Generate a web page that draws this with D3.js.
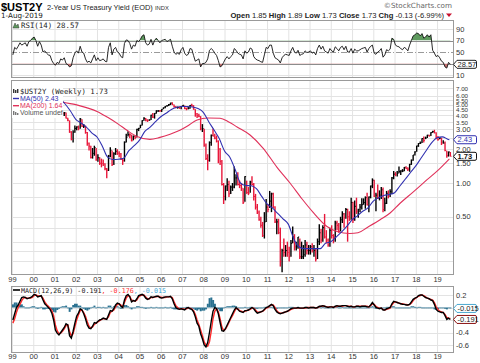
<!DOCTYPE html>
<html>
<head>
<meta charset="utf-8">
<script src="https://cdn.jsdelivr.net/npm/d3@7"></script>
<style>
  body { margin: 0; background: #fff; }
  svg { display: block; font-family: "DejaVu Sans", Verdana, sans-serif; }
</style>
</head>
<body>
<div id="chart"></div>
<script>
// ---- data (monthly, Jan 1999 .. 1 Aug 2019) ----
const startYear = 1999;
const yearLabels = ["99","00","01","02","03","04","05","06","07","08","09","10","11","12","13","14","15","16","17","18","19"];

const priceClose = [
  4.63,5.08,5.01,5.06,5.41,5.52,5.68,5.79,5.70,5.95,6.09,6.24,
  6.59,6.62,6.47,6.76,6.68,6.36,6.26,6.13,5.98,5.90,5.53,5.11,
  4.56,4.40,4.18,4.26,4.17,4.23,3.79,3.63,2.85,2.45,2.84,3.07,
  3.16,3.04,3.72,3.22,3.22,2.82,2.26,2.13,1.69,1.84,2.07,1.61,
  1.68,1.50,1.49,1.48,1.34,1.30,1.74,1.96,1.46,1.82,1.92,1.84,
  1.82,1.63,1.58,2.31,2.55,2.70,2.69,2.38,2.61,2.55,3.01,3.07,
  3.27,3.60,3.78,3.64,3.60,3.64,4.02,3.86,4.18,4.40,4.42,4.41,
  4.54,4.69,4.82,4.87,4.99,5.16,4.98,4.78,4.71,4.71,4.62,4.82,
  4.93,4.62,4.58,4.60,4.92,4.87,4.56,4.15,3.97,3.94,3.04,3.05,
  2.17,1.65,1.59,2.29,2.66,2.63,2.51,2.36,2.00,1.56,0.97,0.76,
  0.94,0.97,0.80,0.92,0.92,1.11,1.11,0.97,0.95,0.90,0.67,1.14,
  0.82,0.81,1.02,0.97,0.76,0.61,0.55,0.47,0.42,0.34,0.45,0.61,
  0.58,0.69,0.80,0.61,0.45,0.45,0.36,0.20,0.25,0.24,0.25,0.24,
  0.22,0.29,0.33,0.27,0.27,0.33,0.22,0.22,0.23,0.28,0.25,0.25,
  0.27,0.25,0.25,0.21,0.30,0.36,0.31,0.40,0.33,0.31,0.28,0.38,
  0.34,0.33,0.44,0.42,0.37,0.47,0.53,0.49,0.58,0.50,0.47,0.67,
  0.47,0.62,0.56,0.58,0.61,0.64,0.67,0.74,0.64,0.75,0.94,1.06,
  0.76,0.78,0.73,0.78,0.87,0.58,0.66,0.81,0.77,0.84,1.11,1.20,
  1.19,1.22,1.27,1.28,1.28,1.38,1.34,1.33,1.47,1.60,1.78,1.89,
  2.14,2.25,2.27,2.49,2.40,2.52,2.67,2.63,2.81,2.87,2.80,2.48,
  2.45,2.52,2.27,2.27,1.95,1.75,1.89,1.73
];
const priceHigh = [
  4.70,5.12,5.20,5.15,5.48,5.75,5.75,5.90,5.85,6.03,6.12,6.30,
  6.65,6.80,6.70,6.80,6.95,6.70,6.45,6.30,6.12,6.00,5.92,5.55,
  5.05,4.65,4.45,4.40,4.35,4.30,4.25,3.82,3.62,2.90,2.95,3.25,
  3.20,3.25,3.80,3.70,3.35,3.25,2.85,2.30,2.15,2.05,2.15,2.05,
  1.80,1.70,1.65,1.62,1.50,1.36,1.78,2.08,1.95,1.88,2.05,2.00,
  1.92,1.85,1.65,2.35,2.75,2.90,2.78,2.70,2.65,2.65,3.05,3.10,
  3.30,3.62,3.85,3.80,3.70,3.70,4.05,4.20,4.20,4.45,4.45,4.45,
  4.55,4.72,4.85,4.95,5.05,5.20,5.25,5.00,4.85,4.80,4.78,4.85,
  4.97,4.90,4.70,4.75,4.95,5.10,4.95,4.55,4.20,4.15,3.95,3.35,
  3.05,2.25,1.80,2.35,2.70,3.05,2.75,2.65,2.40,2.05,1.60,1.00,
  0.95,1.10,1.05,0.95,1.00,1.40,1.20,1.25,1.05,1.00,0.90,1.15,
  1.05,0.92,1.05,1.15,1.00,0.80,0.65,0.57,0.50,0.45,0.55,0.72,
  0.65,0.85,0.82,0.82,0.62,0.48,0.48,0.40,0.26,0.32,0.28,0.30,
  0.27,0.31,0.41,0.35,0.30,0.33,0.32,0.30,0.28,0.31,0.30,0.28,
  0.28,0.29,0.28,0.26,0.32,0.43,0.39,0.42,0.53,0.38,0.32,0.40,
  0.42,0.35,0.46,0.46,0.44,0.50,0.56,0.54,0.60,0.59,0.56,0.74,
  0.68,0.70,0.74,0.59,0.65,0.73,0.73,0.76,0.82,0.76,0.95,1.10,
  1.07,0.82,0.97,0.86,0.92,0.91,0.74,0.85,0.86,0.88,1.13,1.28,
  1.25,1.28,1.40,1.30,1.33,1.39,1.41,1.38,1.48,1.62,1.78,1.92,
  2.15,2.27,2.35,2.50,2.60,2.59,2.69,2.69,2.83,2.92,2.98,2.84,
  2.62,2.54,2.53,2.40,2.35,1.94,1.91,1.89
];
const priceLow = [
  4.45,4.60,4.95,4.98,5.05,5.40,5.45,5.62,5.62,5.68,5.88,6.02,
  6.25,6.55,6.40,6.42,6.65,6.30,6.18,6.08,5.90,5.82,5.50,5.02,
  4.45,4.30,4.05,3.95,4.05,3.95,3.75,3.55,2.80,2.40,2.30,2.80,
  2.95,2.95,3.05,3.15,3.10,2.75,2.15,1.95,1.65,1.65,1.75,1.58,
  1.55,1.45,1.38,1.42,1.30,1.10,1.28,1.70,1.42,1.45,1.78,1.78,
  1.70,1.60,1.45,1.55,2.30,2.60,2.50,2.35,2.40,2.45,2.55,2.90,
  3.08,3.25,3.58,3.55,3.50,3.58,3.65,3.80,3.75,4.15,4.30,4.30,
  4.30,4.55,4.65,4.80,4.85,4.95,4.95,4.70,4.65,4.60,4.60,4.55,
  4.78,4.55,4.45,4.55,4.60,4.80,4.50,3.90,3.80,3.85,2.95,2.85,
  2.10,1.60,1.30,1.55,2.15,2.60,2.45,2.30,1.50,1.45,0.95,0.65,
  0.70,0.85,0.75,0.80,0.85,0.90,0.95,0.95,0.90,0.85,0.65,0.68,
  0.80,0.78,0.82,0.95,0.70,0.58,0.53,0.46,0.40,0.33,0.32,0.45,
  0.55,0.60,0.55,0.60,0.44,0.35,0.35,0.18,0.16,0.22,0.22,0.22,
  0.20,0.22,0.29,0.25,0.25,0.26,0.21,0.21,0.21,0.22,0.23,0.23,
  0.23,0.24,0.22,0.20,0.21,0.28,0.29,0.30,0.32,0.29,0.27,0.27,
  0.32,0.29,0.30,0.38,0.36,0.37,0.44,0.40,0.48,0.30,0.46,0.47,
  0.44,0.46,0.53,0.49,0.55,0.58,0.64,0.59,0.63,0.55,0.73,0.90,
  0.75,0.56,0.72,0.70,0.72,0.55,0.56,0.65,0.73,0.75,0.80,1.08,
  1.15,1.14,1.22,1.18,1.25,1.27,1.33,1.28,1.26,1.45,1.58,1.76,
  1.90,2.10,2.23,2.27,2.30,2.46,2.52,2.60,2.63,2.80,2.77,2.48,
  2.38,2.45,2.18,2.25,1.92,1.68,1.72,1.73
];

// moving averages (decimal year, value)
const ma50Dates = [1999.0,1999.25,1999.5,1999.75,2000.0,2000.25,2000.5,2000.75,2001.0,2001.25,2001.5,2001.75,
  2002.0,2002.25,2002.5,2002.75,2003.0,2003.25,2003.5,2003.75,2004.0,2004.25,2004.5,2004.75,
  2005.0,2005.25,2005.5,2005.75,2006.0,2006.25,2006.5,2006.75,2007.0,2007.25,2007.5,2007.75,
  2008.0,2008.25,2008.5,2008.75,2009.0,2009.25,2009.5,2009.75,2010.0,2010.25,2010.5,2010.75,
  2011.0,2011.25,2011.5,2011.75,2012.0,2012.25,2012.5,2012.75,2013.0,2013.25,2013.5,2013.75,
  2014.0,2014.25,2014.5,2014.75,2015.0,2015.25,2015.5,2015.75,2016.0,2016.25,2016.5,2016.75,
  2017.0,2017.25,2017.5,2017.75,2018.0,2018.25,2018.5,2018.75,2019.0,2019.25,2019.5,2019.58];
const ma50Values = [4.95,4.9,5.0,5.2,5.5,5.9,6.2,6.35,6.2,5.65,5.06,4.38,
  3.7,3.43,3.15,2.8,2.57,2.13,1.7,1.62,1.63,1.66,1.94,2.15,
  2.41,2.88,3.15,3.52,3.9,4.19,4.53,4.73,4.81,4.81,4.76,4.61,
  4.27,3.54,2.98,2.49,1.93,1.7,1.32,1.0,0.95,0.945,0.89,0.76,
  0.65,0.6,0.535,0.48,0.43,0.32,0.27,0.26,0.26,0.26,0.26,0.29,
  0.3,0.33,0.365,0.41,0.47,0.51,0.56,0.6,0.69,0.74,0.775,0.79,
  0.82,0.94,1.08,1.24,1.42,1.67,1.96,2.29,2.53,2.58,2.46,2.43];
const ma200Dates = [1999.0,1999.5,2000.0,2000.5,2001.0,2001.35,2002.0,2002.5,2003.0,2003.5,2004.0,2004.41,
  2004.88,2005.49,2005.96,2006.44,2006.9,2007.24,2007.71,2008.22,2008.79,2009.2,2009.59,2010.2,
  2010.81,2011.47,2012.08,2012.65,2013.16,2013.82,2014.29,2014.9,2015.28,2015.7,2016.32,2016.79,
  2017.26,2017.87,2018.53,2019.14,2019.58];
const ma200Values = [5.75,5.6,5.55,5.65,5.7,5.3,5.0,4.7,4.35,3.85,3.35,2.95,
  2.6,2.45,2.55,2.72,2.95,3.2,3.65,3.8,3.78,3.5,3.16,2.68,
  2.05,1.38,1.0,0.72,0.55,0.41,0.37,0.355,0.36,0.4,0.47,0.54,
  0.66,0.83,1.07,1.35,1.64];

const rsiValues = [
  45,58,55,60,66,62,64,66,60,68,70,74,
  76,70,60,68,62,50,52,48,45,44,35,30,
  27,32,30,38,36,40,30,28,24,26,40,48,
  52,48,60,50,48,38,32,34,31,38,45,35,
  40,35,36,38,34,33,58,66,45,55,58,50,
  48,42,40,65,71,70,65,55,62,60,70,68,
  72,78,80,66,62,64,72,62,70,74,70,66,
  70,71,72,68,70,72,60,50,46,48,46,54,
  58,48,44,46,56,55,44,34,36,38,24,30,
  30,32,38,53,56,53,48,44,35,24,26,32,
  38,42,38,42,45,56,53,48,46,45,38,52,
  48,50,57,55,42,38,36,35,33,32,45,58,
  56,62,62,48,40,38,36,31,40,44,46,45,
  44,52,58,50,48,53,44,46,47,52,49,50,
  52,48,50,45,56,62,55,60,52,50,48,56,
  52,50,59,56,52,58,60,54,60,50,50,56,
  48,55,52,52,54,56,57,58,50,56,60,62,
  48,46,50,52,56,41,45,54,52,55,74,72,
  62,60,59,56,54,58,56,52,62,70,78,80,
  83,82,78,82,74,76,80,76,80,53,48,42,
  44,40,34,32,24,22,32,28.57
];

const macdValues = [
  -0.20,-0.10,0.00,0.04,0.10,0.16,0.17,0.16,0.14,0.15,0.16,0.18,
  0.21,0.20,0.17,0.18,0.19,0.12,0.06,0.03,0.00,-0.03,-0.09,-0.20,
  -0.36,-0.41,-0.44,-0.40,-0.36,-0.32,-0.26,-0.28,-0.45,-0.49,-0.38,-0.25,
  -0.14,-0.09,-0.02,-0.04,-0.10,-0.18,-0.28,-0.33,-0.34,-0.30,-0.24,-0.25,
  -0.22,-0.20,-0.19,-0.17,-0.18,-0.19,-0.12,-0.05,-0.06,-0.02,0.04,0.07,
  0.06,0.02,0.00,0.12,0.19,0.21,0.17,0.09,0.11,0.10,0.14,0.19,
  0.20,0.21,0.19,0.15,0.13,0.14,0.17,0.16,0.17,0.18,0.18,0.16,
  0.15,0.16,0.17,0.17,0.17,0.18,0.14,0.06,0.00,-0.02,-0.03,-0.02,
  -0.03,-0.04,-0.01,0.00,-0.02,-0.03,-0.07,-0.15,-0.25,-0.30,-0.42,-0.50,
  -0.60,-0.63,-0.56,-0.40,-0.22,-0.06,0.00,-0.02,-0.10,-0.24,-0.37,-0.38,
  -0.34,-0.28,-0.22,-0.16,-0.10,-0.04,0.00,-0.03,-0.06,-0.07,-0.08,-0.05,
  -0.05,-0.04,-0.02,0.00,-0.02,-0.06,-0.09,-0.08,-0.07,-0.06,-0.03,0.00,
  0.01,0.03,0.05,0.03,-0.03,-0.07,-0.09,-0.10,-0.09,-0.08,-0.07,-0.06,
  -0.04,-0.02,-0.01,-0.01,-0.01,0.00,-0.01,-0.01,-0.01,0.00,0.00,-0.01,
  0.00,0.00,0.00,-0.01,0.00,0.02,0.02,0.03,0.02,0.01,0.00,0.01,
  0.01,0.00,0.02,0.03,0.02,0.02,0.03,0.03,0.03,0.02,0.01,0.02,
  0.01,0.01,0.02,0.02,0.01,0.02,0.02,0.02,0.01,0.01,0.04,0.08,
  0.04,0.00,-0.01,-0.02,-0.01,-0.04,-0.04,-0.02,-0.01,0.00,0.06,0.10,
  0.09,0.08,0.07,0.06,0.05,0.05,0.04,0.04,0.05,0.09,0.13,0.15,
  0.16,0.19,0.20,0.20,0.18,0.16,0.15,0.14,0.12,0.11,0.05,-0.03,
  -0.06,-0.07,-0.08,-0.08,-0.13,-0.19,-0.17,-0.191
];
const signalValues = [
  -0.25,-0.18,-0.08,0.00,0.05,0.11,0.15,0.16,0.15,0.15,0.15,0.16,
  0.19,0.20,0.19,0.18,0.18,0.15,0.09,0.05,0.02,-0.01,-0.05,-0.13,
  -0.28,-0.37,-0.42,-0.41,-0.38,-0.34,-0.29,-0.28,-0.38,-0.46,-0.42,-0.31,
  -0.20,-0.12,-0.05,-0.04,-0.08,-0.14,-0.23,-0.30,-0.33,-0.31,-0.27,-0.25,
  -0.23,-0.21,-0.19,-0.18,-0.18,-0.18,-0.15,-0.08,-0.06,-0.04,0.01,0.05,
  0.06,0.04,0.01,0.08,0.15,0.19,0.18,0.12,0.11,0.10,0.12,0.17,
  0.19,0.20,0.20,0.17,0.14,0.14,0.16,0.16,0.17,0.17,0.18,0.17,
  0.16,0.16,0.16,0.17,0.17,0.17,0.16,0.09,0.03,0.00,-0.02,-0.02,
  -0.02,-0.03,-0.02,-0.01,-0.01,-0.02,-0.05,-0.11,-0.20,-0.27,-0.36,-0.45,
  -0.55,-0.60,-0.62,-0.55,-0.38,-0.18,-0.06,-0.02,-0.07,-0.18,-0.31,-0.37,
  -0.35,-0.30,-0.24,-0.18,-0.13,-0.07,-0.02,-0.02,-0.05,-0.06,-0.07,-0.06,
  -0.05,-0.04,-0.03,-0.01,-0.01,-0.04,-0.07,-0.08,-0.07,-0.06,-0.04,-0.01,
  0.00,0.02,0.04,0.04,0.00,-0.05,-0.08,-0.09,-0.09,-0.08,-0.07,-0.06,
  -0.05,-0.03,-0.02,-0.01,-0.01,-0.01,-0.01,-0.01,-0.01,-0.01,0.00,0.00,
  0.00,0.00,0.00,-0.01,0.00,0.01,0.02,0.02,0.02,0.01,0.01,0.01,
  0.01,0.01,0.01,0.02,0.02,0.02,0.02,0.03,0.03,0.02,0.02,0.02,
  0.01,0.01,0.02,0.02,0.02,0.02,0.02,0.02,0.02,0.01,0.03,0.06,
  0.05,0.02,0.00,-0.01,-0.01,-0.03,-0.04,-0.03,-0.02,-0.01,0.04,0.08,
  0.09,0.08,0.07,0.06,0.06,0.05,0.05,0.04,0.05,0.07,0.11,0.14,
  0.16,0.18,0.19,0.20,0.19,0.17,0.15,0.14,0.13,0.12,0.08,0.01,
  -0.03,-0.06,-0.07,-0.08,-0.11,-0.16,-0.17,-0.176
];

const priceTicks = [0.5, 1, 1.5, 2, 3, 3.5, 4, 4.5, 5, 5.5, 6, 7];
const priceGrid = [0.2, 0.25, 0.3, 0.4, 0.5, 0.75, 1, 1.5, 2, 2.5, 3, 3.5, 4, 4.5, 5, 5.5, 6, 7];
const rsiTicks = [90, 70, 50, 10];
const macdTicks = [0.2, -0.4, -0.6];

// ---- layout ----
const W = 480, H = 363;
const plotL = 11, plotR = 453;
const rsiP = {top: 20, bottom: 77};
const priceP = {top: 80, bottom: 274};
const macdP = {top: 286, bottom: 352};

const x = d3.scaleLinear().domain([1999, 2019.75]).range([12, 453]);
const yPrice = d3.scaleLog().domain([0.1545, 7.95]).range([274, 82]);
const yRsi = d3.scaleLinear().domain([10, 90]).range([75, 29]);
const yMacd = d3.scaleLinear().domain([-0.6, 0.2]).range([345, 295]);

const monthT = i => startYear + (i + 0.5) / 12;
const years = yearLabels.map((d, i) => startYear + i);

const svg = d3.select("#chart").append("svg")
    .attr("width", W).attr("height", H);

svg.append("rect").attr("width", W).attr("height", H).attr("fill", "#fff");

const defs = svg.append("defs");
[["clipRsi", rsiP], ["clipPrice", priceP], ["clipMacd", macdP]].forEach(([id, p]) => {
    defs.append("clipPath").attr("id", id).append("rect")
        .attr("x", plotL).attr("y", p.top).attr("width", plotR - plotL).attr("height", p.bottom - p.top);
});

function yearGrid(p) {
    svg.append("g").selectAll("line").data(years).join("line")
        .attr("x1", d => x(d) + 0.5).attr("x2", d => x(d) + 0.5)
        .attr("y1", p.top).attr("y2", p.bottom)
        .attr("stroke", "#e3e3e3").attr("stroke-width", 1);
}

function frame(p) {
    svg.append("rect")
        .attr("x", plotL + 0.5).attr("y", p.top + 0.5)
        .attr("width", plotR - plotL).attr("height", p.bottom - p.top)
        .attr("fill", "none").attr("stroke", "#9a9a9a");
}

function axisLabels(ticks, scale, fmt, size) {
    svg.append("g").selectAll("text").data(ticks).join("text")
        .attr("x", 456).attr("y", d => scale(d) + 2.6)
        .attr("font-family", "Liberation Sans, Arial, sans-serif")
        .attr("font-size", size || 7.5).attr("fill", "#333")
        .text(fmt);
}

function valueTag(yPos, label, color, textColor, bold) {
    const g = svg.append("g").attr("transform", `translate(453,${yPos})`);
    g.append("path")
        .attr("d", "M0.5,0 L4,-4 H22 Q23.5,-4 23.5,-2.5 V2.5 Q23.5,4 22,4 H4 Z")
        .attr("fill", "#fff").attr("stroke", color).attr("stroke-width", 1);
    g.append("text").attr("x", 4.5).attr("y", 2.7)
        .attr("font-family", "Liberation Sans, Arial, sans-serif")
        .attr("font-size", 7.5).attr("font-weight", bold ? "bold" : "normal")
        .attr("fill", textColor).text(label);
}

// ---- header ----
svg.append("text").attr("x", 1).attr("y", 10.5)
    .attr("font-family", "Liberation Sans, Arial, sans-serif")
    .attr("font-size", 11).attr("font-weight", "bold").text("$UST2Y");
svg.append("text").attr("x", 47).attr("y", 10)
    .attr("font-family", "Liberation Sans, Arial, sans-serif")
    .attr("font-size", 7.4).attr("fill", "#222").text("2-Year US Treasury Yield (EOD)");
svg.append("text").attr("x", 155).attr("y", 10)
    .attr("font-family", "Liberation Sans, Arial, sans-serif")
    .attr("font-size", 5.8).attr("fill", "#333").text("INDX");
svg.append("text").attr("x", 1).attr("y", 17.5)
    .attr("font-size", 7.2).attr("fill", "#222").text("1-Aug-2019");
svg.append("text").attr("x", 452).attr("y", 8).attr("text-anchor", "end")
    .attr("font-size", 7.2).attr("fill", "#666").text("\u00a9StockCharts.com");

const ohlc = svg.append("text").attr("x", 444).attr("y", 17.5).attr("text-anchor", "end")
    .attr("font-family", "Liberation Sans, Arial, sans-serif")
    .attr("font-size", 7.6).attr("fill", "#222");
[["Open", true], [" 1.85 ", false], ["High", true], [" 1.89 ", false], ["Low", true], [" 1.73 ", false],
 ["Close", true], [" 1.73 ", false], ["Chg", true], [" -0.13 (-6.99%)", false]].forEach(([t, b]) => {
    ohlc.append("tspan").attr("font-weight", b ? "bold" : "normal").text(t);
});
svg.append("path").attr("d", "M446,13.5 L452,13.5 L449,17 Z").attr("fill", "#c8102e");

// ---- RSI panel ----
yearGrid(rsiP);
svg.append("g").selectAll("line").data([90, 10]).join("line")
    .attr("x1", plotL).attr("x2", plotR).attr("y1", d => Math.round(yRsi(d)) + 0.5).attr("y2", d => Math.round(yRsi(d)) + 0.5)
    .attr("stroke", "#e3e3e3");
svg.append("g").selectAll("line").data([70, 30]).join("line")
    .attr("x1", plotL).attr("x2", plotR).attr("y1", d => Math.round(yRsi(d)) + 0.5).attr("y2", d => Math.round(yRsi(d)) + 0.5)
    .attr("stroke", "#8c8c8c");
svg.append("line").attr("x1", plotL).attr("x2", plotR)
    .attr("y1", Math.round(yRsi(50)) + 0.5).attr("y2", Math.round(yRsi(50)) + 0.5)
    .attr("stroke", "#9a9a9a").attr("stroke-dasharray", "6,2,1,2");

const rsiG = svg.append("g").attr("clip-path", "url(#clipRsi)");
defs.append("clipPath").attr("id", "clipRsiHi").append("rect")
    .attr("x", plotL).attr("y", rsiP.top).attr("width", plotR - plotL).attr("height", yRsi(70) - rsiP.top);
defs.append("clipPath").attr("id", "clipRsiLo").append("rect")
    .attr("x", plotL).attr("y", yRsi(30)).attr("width", plotR - plotL).attr("height", rsiP.bottom - yRsi(30));

rsiG.append("path").datum(rsiValues)
    .attr("clip-path", "url(#clipRsiHi)")
    .attr("fill", "#5e9a5e")
    .attr("d", d3.area().x((d, i) => x(monthT(i))).y0(yRsi(70)).y1(d => yRsi(d)));
rsiG.append("path").datum(rsiValues)
    .attr("clip-path", "url(#clipRsiLo)")
    .attr("fill", "#c27070")
    .attr("d", d3.area().x((d, i) => x(monthT(i))).y0(yRsi(30)).y1(d => yRsi(d)));
rsiG.append("path").datum(rsiValues)
    .attr("fill", "none").attr("stroke", "#111").attr("stroke-width", 0.9)
    .attr("d", d3.line().x((d, i) => x(monthT(i))).y(d => yRsi(d)));
frame(rsiP);
axisLabels(rsiTicks, yRsi, d => d);
valueTag(yRsi(28.57), "28.57", "#222", "#222", false);

// RSI legend
svg.append("path").attr("d", "M13,28 L15,23 L16.5,26 L18,24 L19,28 Z").attr("fill", "#5e9a5e").attr("stroke", "#333").attr("stroke-width", 0.5);
svg.append("text").attr("x", 21).attr("y", 28)
    .attr("font-family", "DejaVu Sans Mono, monospace").attr("font-size", 7.4).attr("fill", "#222")
    .text("RSI(14) 28.57");

// ---- price panel ----
yearGrid(priceP);
svg.append("g").selectAll("line").data(priceGrid).join("line")
    .attr("x1", plotL).attr("x2", plotR)
    .attr("y1", d => Math.round(yPrice(d)) + 0.5).attr("y2", d => Math.round(yPrice(d)) + 0.5)
    .attr("stroke", "#e3e3e3");

const priceG = svg.append("g").attr("clip-path", "url(#clipPrice)");
const bars = priceClose.map((c, i) => ({
    t: monthT(i), close: c, high: priceHigh[i], low: priceLow[i],
    down: i > 0 && c < priceClose[i - 1]
}));
priceG.append("g").selectAll("line").data(bars).join("line")
    .attr("x1", d => x(d.t)).attr("x2", d => x(d.t))
    .attr("y1", d => yPrice(d.high)).attr("y2", d => yPrice(d.low))
    .attr("stroke", d => d.down ? "#e8173a" : "#000").attr("stroke-width", 1.4);
priceG.append("g").selectAll("line").data(bars).join("line")
    .attr("x1", d => x(d.t)).attr("x2", d => x(d.t) + 1.2)
    .attr("y1", d => yPrice(d.close)).attr("y2", d => yPrice(d.close))
    .attr("stroke", d => d.down ? "#e8173a" : "#000").attr("stroke-width", 1);

const maLine = d3.line().curve(d3.curveMonotoneX).x(d => x(d[0])).y(d => yPrice(d[1]));
priceG.append("path").datum(ma200Dates.map((t, i) => [t, ma200Values[i]]))
    .attr("fill", "none").attr("stroke", "#e0315a").attr("stroke-width", 1.1).attr("d", maLine);
priceG.append("path").datum(ma50Dates.map((t, i) => [t, ma50Values[i]]))
    .attr("fill", "none").attr("stroke", "#3030b0").attr("stroke-width", 1.1).attr("d", maLine);

// price legend (opaque box over the early data)
svg.append("rect").attr("x", plotL + 1).attr("y", priceP.top + 1).attr("width", 51).attr("height", 37).attr("fill", "#fff");
svg.append("g").selectAll("rect").data([0, 1, 2]).join("rect")
    .attr("x", d => 13 + d * 2).attr("y", d => 89 + (d % 2)).attr("width", 1.4).attr("height", d => 4 - (d % 2))
    .attr("fill", "#333");
svg.append("text").attr("x", 20).attr("y", 93.5)
    .attr("font-family", "DejaVu Sans Mono, monospace").attr("font-size", 7.3).attr("fill", "#222")
    .text("$UST2Y (Weekly) 1.73");
const legendRows = [
    {label: "MA(50) 2.43", color: "#3030b0", y: 100.8},
    {label: "MA(200) 1.64", color: "#e0315a", y: 108}
];
legendRows.forEach(r => {
    svg.append("line").attr("x1", 13).attr("x2", 19).attr("y1", r.y - 2.3).attr("y2", r.y - 2.3)
        .attr("stroke", r.color).attr("stroke-width", 1.4);
    svg.append("text").attr("x", 20).attr("y", r.y)
        .attr("font-family", "Liberation Sans, Arial, sans-serif").attr("font-size", 7).attr("fill", r.color)
        .text(r.label);
});
svg.append("g").selectAll("rect").data([0, 1, 2]).join("rect")
    .attr("x", d => 13 + d * 2).attr("y", d => 111 + d).attr("width", 1.4).attr("height", d => 4 - d)
    .attr("fill", "#777");
svg.append("text").attr("x", 20).attr("y", 115.2)
    .attr("font-family", "Liberation Sans, Arial, sans-serif").attr("font-size", 7).attr("fill", "#555")
    .text("Volume undef");

frame(priceP);
// crowded upper labels are drawn smaller, as they pile up in the original too
axisLabels(priceTicks.filter(d => d < 3.5), yPrice, d => d.toFixed(2));
axisLabels(priceTicks.filter(d => d >= 3.5), yPrice, d => d.toFixed(2), 6.2);
valueTag(yPrice(2.43), "2.43", "#3030b0", "#3030b0", false);
valueTag(yPrice(1.73), "1.73", "#111", "#111", true);

// x axis labels between panels and at bottom
[281.5, 358.5].forEach(yy => {
    svg.append("g").selectAll("text").data(years).join("text")
        .attr("x", d => x(d) + 0.5).attr("y", yy).attr("text-anchor", "middle")
        .attr("font-family", "Liberation Sans, Arial, sans-serif")
        .attr("font-size", 7.5).attr("fill", "#333")
        .text((d, i) => yearLabels[i]);
});

// ---- MACD panel ----
yearGrid(macdP);
svg.append("g").selectAll("line").data([0.2, 0, -0.2, -0.4, -0.6]).join("line")
    .attr("x1", plotL).attr("x2", plotR)
    .attr("y1", d => Math.round(yMacd(d)) + 0.5).attr("y2", d => Math.round(yMacd(d)) + 0.5)
    .attr("stroke", "#e3e3e3");

const macdG = svg.append("g").attr("clip-path", "url(#clipMacd)");
const step = x(2000) - x(1999 + 11 / 12);
macdG.append("g").selectAll("rect").data(macdValues).join("rect")
    .attr("x", (d, i) => x(monthT(i)) - step / 2)
    .attr("width", step + 0.2)
    .attr("y", (d, i) => yMacd(Math.max(0, d - signalValues[i])))
    .attr("height", (d, i) => Math.max(0.8, Math.abs(yMacd(d - signalValues[i]) - yMacd(0))))
    .attr("fill", "#2a7190");
macdG.append("path").datum(signalValues)
    .attr("fill", "none").attr("stroke", "#ff2a2a").attr("stroke-width", 1.4)
    .attr("d", d3.line().x((d, i) => x(monthT(i))).y(d => yMacd(d)));
macdG.append("path").datum(macdValues)
    .attr("fill", "none").attr("stroke", "#000").attr("stroke-width", 1.4)
    .attr("d", d3.line().x((d, i) => x(monthT(i))).y(d => yMacd(d)));
frame(macdP);
axisLabels(macdTicks, yMacd, d => d);
valueTag(yMacd(-0.015), "-0.015", "#4aa8d0", "#222", false);
valueTag(yMacd(-0.191), "-0.191", "#8a1010", "#222", false);

// MACD legend
svg.append("line").attr("x1", 13).attr("x2", 20).attr("y1", 290).attr("y2", 290).attr("stroke", "#000").attr("stroke-width", 1.6);
const macdLegend = svg.append("text").attr("x", 21).attr("y", 292.6)
    .attr("font-family", "DejaVu Sans Mono, monospace").attr("font-size", 6.7);
macdLegend.append("tspan").attr("fill", "#222").text("MACD(12,26,9) -0.191");
macdLegend.append("tspan").attr("fill", "#ff2a2a").text(", -0.176");
macdLegend.append("tspan").attr("fill", "#3aa6d8").text(", -0.015");
</script>
</body>
</html>
